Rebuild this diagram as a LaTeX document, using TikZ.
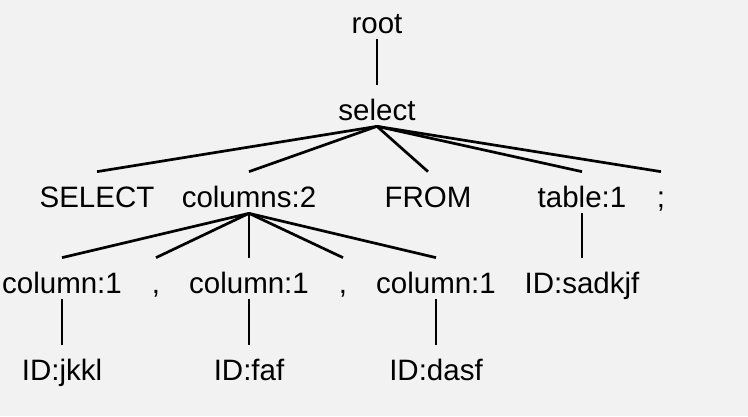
\documentclass[tikz,border=0pt]{standalone}
\usepackage{fontspec}
\setmainfont{Liberation Sans}
\definecolor{bggray}{RGB}{242,242,242}

\begin{document}
\begin{tikzpicture}[x=1pt,y=-1pt,line width=2.7pt,
  tok/.style={inner sep=0pt,anchor=base,text height=34pt,text depth=5pt,
    font=\fontsize{29.5}{34}\selectfont}]

  % Background
  \fill[bggray] (0,0) rectangle (748,416);
  \useasboundingbox (0,0) rectangle (748,416);

  % Top levels
  \node[tok] (root) at (377,33) {root};
  \node[tok] (select) at (377,120) {select};

  % Children of select
  \node[tok] (kwselect) at (97,207) {SELECT};
  \node[tok] (columns) at (249,207) {columns:2};
  \node[tok] (kwfrom) at (428,207) {FROM};
  \node[tok] (table) at (582,207) {table:1};
  \node[tok] (semi) at (661,207) {;};

  % Children of columns and table
  \node[tok] (colA) at (62,293) {column:1};
  \node[tok] (commaA) at (156,293) {,};
  \node[tok] (colB) at (249,293) {column:1};
  \node[tok] (commaB) at (343,293) {,};
  \node[tok] (colC) at (436,293) {column:1};
  \node[tok] (idtable) at (582,293) {ID:sadkjf};

  % Leaves
  \node[tok] (idA) at (62,380) {ID:jkkl};
  \node[tok] (idB) at (249,380) {ID:faf};
  \node[tok] (idC) at (436,380) {ID:dasf};

  % Draw edges
  \draw (root.south) -- (select.north);
  \foreach \c in {kwselect,columns,kwfrom,table,semi}
    \draw (select.south) -- (\c.north);
  \foreach \c in {colA,commaA,colB,commaB,colC}
    \draw (columns.south) -- (\c.north);
  \draw (table.south) -- (idtable.north);
  \draw (colA.south) -- (idA.north);
  \draw (colB.south) -- (idB.north);
  \draw (colC.south) -- (idC.north);

\end{tikzpicture}
\end{document}
